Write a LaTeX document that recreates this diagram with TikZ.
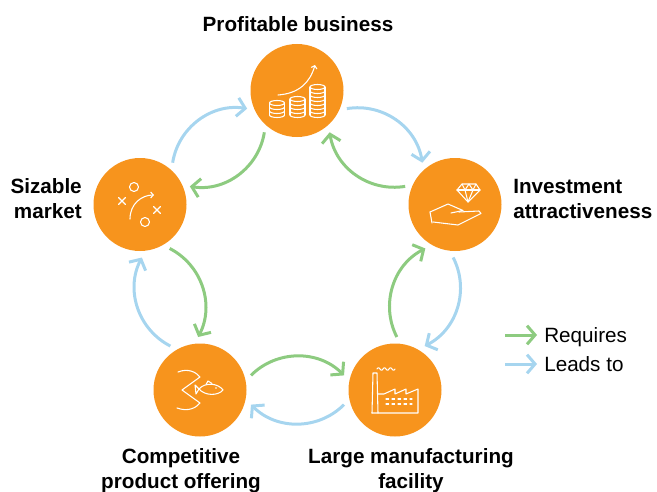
\documentclass[tikz,border=0pt]{standalone}
\usepackage{fontspec}
\setmainfont{Liberation Sans}
\usetikzlibrary{arrows.meta}
\definecolor{huborange}{HTML}{F7941D}
\definecolor{reqgreen}{HTML}{8DCB80}
\definecolor{leadblue}{HTML}{A6D5EF}
\tikzstyle{hub}=[circle,fill=huborange,minimum size=69.75pt,inner sep=0pt,outer sep=4.9pt]
\tikzstyle{tag}=[inner sep=0pt,font=\bfseries\fontsize{15.5}{18.75}\selectfont]
\tikzstyle{legendtext}=[inner sep=0pt,font=\fontsize{15.5}{18.75}\selectfont]
\tikzstyle{requires}=[line width=2.25pt,draw=reqgreen,-{Straight Barb[length=6pt,width=14pt]}]
\tikzstyle{leadsto}=[line width=2.25pt,draw=leadblue,-{Straight Barb[length=6pt,width=14pt]}]
\tikzstyle{icon}=[draw=white,line width=0.8pt,line cap=round,line join=round]
\tikzstyle{icontip}=[-{Straight Barb[length=2pt,width=4.5pt]}]

\begin{document}
\begin{tikzpicture}[x=0.75pt,y=0.75pt]
            \useasboundingbox (0,0) rectangle (657,-492);
            % the five circles
            \node (top)[hub] at (297,-90.5) {};
            \node (inv)[hub] at (455,-204.5) {};
            \node (man)[hub] at (395,-390) {};
            \node (comp)[hub] at (200,-390) {};
            \node (siz)[hub] at (140,-204.5) {};
            % captions (base = last line)
            \node (toptag)[tag,anchor=base] at (298,-32) {Profitable business};
            \node (invtag)[tag,align=left,anchor=base west] at (513,-218) {Investment\\attractiveness};
            \node (mantag)[tag,align=center,anchor=base] at (411,-488) {Large manufacturing\\facility};
            \node (comptag)[tag,align=center,anchor=base] at (181,-488) {Competitive\\product offering};
            \node (siztag)[tag,align=right,anchor=base east] at (82,-218) {Sizable\\market};
            % leads to (outer, clockwise)
            \draw [leadsto] (top.-20) to[bend left=45] (inv.128);
            \draw [leadsto] (inv.-92) to[bend left=45] (man.56);
            \draw [leadsto] (man.-164) to[bend left=45] (comp.-16);
            \draw [leadsto] (comp.124) to[bend left=45] (siz.-88);
            \draw [leadsto] (siz.52) to[bend left=45] (top.200);
            % requires (inner, counterclockwise)
            \draw [requires] (top.232) to[bend left=45] (siz.20);
            \draw [requires] (siz.-56) to[bend left=45] (comp.92);
            \draw [requires] (comp.16) to[bend left=45] (man.164);
            \draw [requires] (man.88) to[bend left=45] (inv.-124);
            \draw [requires] (inv.160) to[bend left=45] (top.-52);
            % legend
            \coordinate (req0) at (505,-335);
            \coordinate (req1) at (537,-335);
            \coordinate (lead0) at (505,-364);
            \coordinate (lead1) at (537,-364);
            \node (reqtxt)[legendtext,anchor=base west] at (544,-342) {Requires};
            \node (leadtxt)[legendtext,anchor=base west] at (544,-371) {Leads to};
            \draw [requires] (req0) -- (req1);
            \draw [leadsto] (lead0) -- (lead1);
            % icon: coins
            \begin{scope}[shift={(top.center)}]
                \foreach \cx/\cn in {-20/3,0.5/4,20.5/7}{
                    \pgfmathsetmacro\ct{-24.5+4*\cn}
                    \draw [icon] (\cx,\ct) ellipse (7.5 and 2.5);
                    \draw [icon] (\cx-7.5,\ct) -- (\cx-7.5,-24.5);
                    \draw [icon] (\cx+7.5,\ct) -- (\cx+7.5,-24.5);
                    \foreach \k in {1,...,\cn}
                        \draw [icon] (\cx-7.5,\ct-4*\k) arc (180:360:7.5 and 2.5);
                }
                \draw [icon,icontip] (-19,-4.5) .. controls (2,-3) and (13,8) .. (18,25.5);
            \end{scope}
            % icon: tactics
            \begin{scope}[shift={(siz.center)}]
                \draw [icon] (-6,17.5) circle (4.5);
                \draw [icon] (5,-17.5) circle (4.5);
                \draw [icon] (-21.5,0) -- (-14.5,7) (-21.5,7) -- (-14.5,0);
                \draw [icon] (13.5,-9) -- (20.5,-2) (13.5,-2) -- (20.5,-9);
                \draw [icon,icontip] (-10,-14.5) .. controls (-10,1) and (2,9.5) .. (14,9.5);
            \end{scope}
            % icon: gem on hand
            \begin{scope}[shift={(inv.center)}]
                \draw [icon] (7,20.5) -- (21,20.5) -- (25,14.5) -- (13,2.5) -- (2,14.5) -- cycle;
                \draw [icon] (2,14.5) -- (25,14.5);
                \draw [icon] (7,20.5) -- (10,14.5) -- (14,20.5) -- (18,14.5) -- (21,20.5);
                \draw [icon] (10,14.5) -- (13,2.5) -- (18,14.5);
                \draw [icon] (-25,-7.5) -- (-23,-18.5);
                \draw [icon] (-25,-7.5) -- (-7,0.5) -- (8,-6) -- (-4,-8.5);
                \draw [icon] (4,-7.5) -- (24,-6.5) -- (26,-9) -- (3,-20.5) -- (-22,-17.5);
            \end{scope}
            % icon: fish and mouth
            \begin{scope}[shift={(comp.center)}]
                \draw [icon] (-22,18) .. controls (-12,22) and (-4,18) .. (0,13) -- (-18,0) -- (0,-13) .. controls (-4,-18) and (-12,-22) .. (-23,-18);
                \draw [icon] (-1,1) .. controls (5,8) and (18,7) .. (23,0) .. controls (18,-6) and (5,-6) .. (-1,1);
                \draw [icon] (-1,1) -- (-5,5) -- (-4,-4) -- cycle;
                \draw [icon] (6,5.5) -- (8,9) -- (12,6.5);
                \fill [white] (16,2) circle (0.9);
            \end{scope}
            % icon: factory
            \begin{scope}[shift={(man.center)}]
                \draw [icon] (-23,-23) -- (-22,17) -- (-18,17) -- (-17,-23);
                \draw [icon] plot[domain=-18:0,samples=37,smooth] (\x,{21+1.2*sin(\x*60)});
                \draw [icon] (-17,-4) -- (-11,-4) -- (0,1) -- (0,-4) -- (11,1) -- (11,-4) -- (23,1) -- (23,-23) -- (-23,-23);
                \draw [icon,dash pattern=on 2pt off 2.5pt] (-9,-9) -- (17,-9);
                \draw [icon,dash pattern=on 2pt off 2.5pt] (-9,-14) -- (17,-14);
            \end{scope}
        \end{tikzpicture}
\end{document}
